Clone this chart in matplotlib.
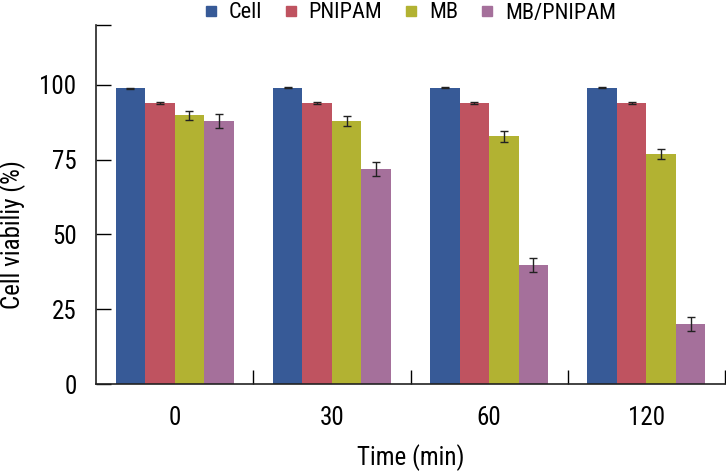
import numpy as np
import matplotlib
matplotlib.use("Agg")
import matplotlib.pyplot as plt
from matplotlib.lines import Line2D

plt.rcParams['font.family'] = ['Roboto Condensed', 'DejaVu Sans']

times = ["0", "30", "60", "120"]
series = ["Cell", "PNIPAM", "MB", "MB/PNIPAM"]
colors = ["#375a97", "#bf5360", "#b2b232", "#a5709b"]

cell = [98.8, 99.1, 99.1, 99.1]
pnipam = [93.8, 93.8, 93.8, 93.8]
mb = [89.8, 87.9, 82.8, 76.9]
mb_pnipam = [87.9, 71.9, 39.9, 20.0]

cell_err = [0.3, 0.3, 0.3, 0.3]
pnipam_err = [0.3, 0.3, 0.3, 0.3]
mb_err = [1.5, 1.6, 1.8, 1.7]
mb_pnipam_err = [2.3, 2.3, 2.3, 2.3]

values = [cell, pnipam, mb, mb_pnipam]
errors = [cell_err, pnipam_err, mb_err, mb_pnipam_err]

fig = plt.figure(figsize=(7.26, 4.71), dpi=100)
ax = fig.add_axes([96/726, 1-384/471, 629/726, 359/471])

x = np.arange(len(times))
w = 0.1875
for i, (vals, errs) in enumerate(zip(values, errors)):
    pos = x + (i - 1.5) * w
    ax.bar(pos, vals, width=w, color=colors[i], zorder=2)
    ax.errorbar(pos, vals, yerr=errs, fmt='none', ecolor='#222222',
                elinewidth=1.0, capsize=3, capthick=1.0, zorder=3)

ax.set_xlim(-0.5, 3.5)
ax.set_ylim(0, 120)
ax.set_yticks([0, 25, 50, 75, 100, 120])
ax.set_yticklabels(["0", "25", "50", "75", "100", ""])
ax.set_xticks(x)
ax.set_xticklabels(times)
ax.set_xticks([0.5, 1.5, 2.5, 3.5], minor=True)
ax.tick_params(axis='x', which='major', length=0, pad=16, labelsize=18)
ax.tick_params(axis='x', which='minor', direction='in', length=10, width=1)
ax.tick_params(axis='y', direction='in', length=11, width=1, pad=14, labelsize=18)

for s in ['top', 'right']:
    ax.spines[s].set_visible(False)
for s in ['left', 'bottom']:
    ax.spines[s].set_linewidth(1.2)
    ax.spines[s].set_color('#222222')

ax.set_ylabel("Cell viabiliy (%)", fontsize=18)
ax.yaxis.set_label_coords(-0.112, 50/120)
ax.set_xlabel("Time (min)", fontsize=18)
ax.xaxis.set_label_coords(0.5, -0.168)

handles = [Line2D([], [], marker='s', linestyle='none', markersize=7,
                  markerfacecolor=c, markeredgecolor=c) for c in colors]
fig.legend(handles, series, loc='center', bbox_to_anchor=(410/726, 1-13/471),
           ncol=4, frameon=False, fontsize=16, handletextpad=0.5,
           columnspacing=1.0, handlelength=0.6)

fig.savefig("out.png", dpi=100)
